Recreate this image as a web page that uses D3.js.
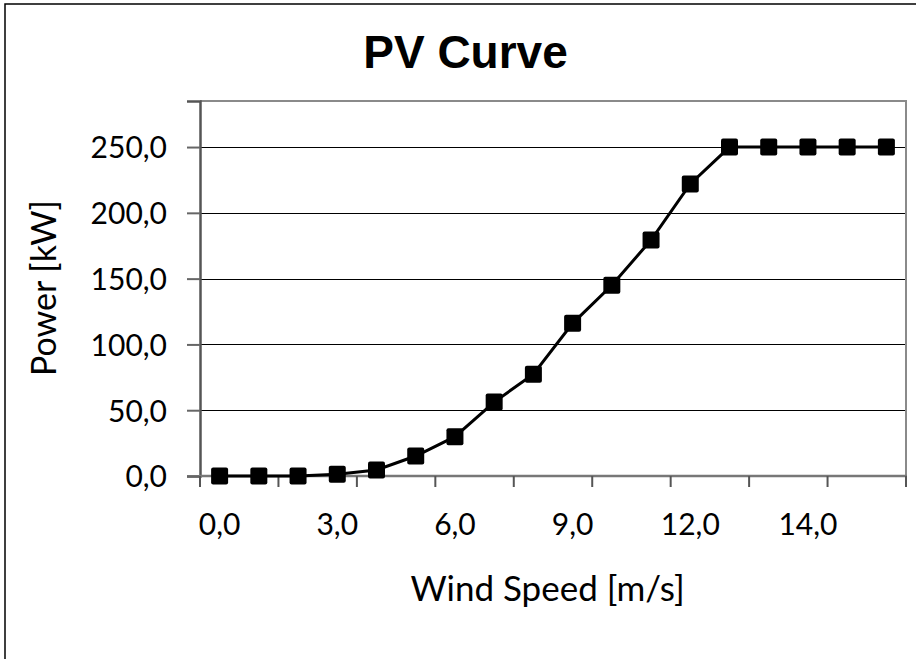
<!DOCTYPE html>
<html>
<head>
<meta charset="utf-8">
<script src="https://cdn.jsdelivr.net/npm/d3@7"></script>
<style>
  html, body { margin: 0; padding: 0; background: #fff; }
  svg { display: block; }
</style>
</head>
<body>
<svg id="chart" width="916" height="659"></svg>
<script>
// ---- data ----
const windSpeed = [0, 1, 2, 3, 4, 5, 6, 7, 8, 9, 10, 11, 12, 13, 13.5, 14, 15, 16];
const power = [0, 0, 0, 1.3, 4.6, 15.2, 29.9, 56.2, 77.4, 116, 145, 179.3, 222, 250, 250, 250, 250, 250];
const yTicks = [0, 50, 100, 150, 200, 250];
const labelInterval = 3;   // every 3rd category labelled
const tickInterval = 2;    // tick mark every 2 categories
const title = "PV Curve";
const xTitle = "Wind Speed [m/s]";
const yTitle = "Power [kW]";

const loc = d3.formatLocale({decimal: ",", thousands: ".", grouping: [3], currency: ["", ""]});
const fmt = loc.format(".1f");

const svg = d3.select("#chart");
const plot = {left: 200, right: 906, top: 101, bottom: 476};

// outer chart frame
svg.append("rect").attr("x", 5).attr("y", 4).attr("width", 940).attr("height", 700)
  .attr("fill", "#fff").attr("stroke", "#000").attr("stroke-width", 1.5);

const idx = d3.range(windSpeed.length);
const x = d3.scaleBand().domain(idx).range([plot.left, plot.right]).padding(0);
const y = d3.scaleLinear().domain([0, 285]).range([plot.bottom, plot.top]);
const cx = i => x(i) + x.bandwidth() / 2;

// gridlines
svg.append("g").selectAll("line").data(yTicks.filter(d => d > 0)).join("line")
  .attr("x1", plot.left).attr("x2", plot.right)
  .attr("y1", d => Math.round(y(d)) + 0.5).attr("y2", d => Math.round(y(d)) + 0.5)
  .attr("stroke", "#000").attr("stroke-width", 1);

// plot area border (top & right gray)
svg.append("path")
  .attr("d", `M${plot.left},${plot.top} H${plot.right} V${plot.bottom}`)
  .attr("fill", "none").attr("stroke", "#8a8a8a").attr("stroke-width", 2);

// y axis
const yAxis = d3.axisLeft(y).tickValues(yTicks).tickFormat(fmt).tickSize(13).tickPadding(20);
const gy = svg.append("g").attr("transform", `translate(${plot.left},0)`).call(yAxis);
gy.select(".domain").attr("stroke", "#555").attr("stroke-width", 2.5);
gy.selectAll(".tick line").attr("stroke", "#666").attr("stroke-width", 2);
gy.selectAll(".tick text").attr("font-family", "Lato, 'Open Sans', sans-serif")
  .attr("font-size", 30).attr("fill", "#000").attr("dy", "0.36em");

// x axis (category axis)
const boundaries = d3.range(0, windSpeed.length + 1, tickInterval);
const gx = svg.append("g");
gx.append("line").attr("x1", plot.left - 1).attr("x2", plot.right + 1)
  .attr("y1", plot.bottom).attr("y2", plot.bottom)
  .attr("stroke", "#777").attr("stroke-width", 2.5);
gx.selectAll("line.tk").data(boundaries).join("line").attr("class", "tk")
  .attr("x1", d => plot.left + d * x.bandwidth()).attr("x2", d => plot.left + d * x.bandwidth())
  .attr("y1", plot.bottom).attr("y2", plot.bottom + 11)
  .attr("stroke", "#555").attr("stroke-width", 2);
gx.selectAll("text").data(idx.filter(i => i % labelInterval === 0)).join("text")
  .attr("x", d => cx(d)).attr("y", 535)
  .attr("text-anchor", "middle")
  .attr("font-family", "Lato, 'Open Sans', sans-serif").attr("font-size", 30)
  .text(d => fmt(windSpeed[d]));

// line
const line = d3.line().x(d => cx(d)).y(d => y(power[d]));
svg.append("path").datum(idx).attr("d", line)
  .attr("fill", "none").attr("stroke", "#000").attr("stroke-width", 3);

// markers
const ms = 17;
svg.append("g").selectAll("rect").data(idx).join("rect")
  .attr("x", d => cx(d) - ms / 2).attr("y", d => y(power[d]) - ms / 2)
  .attr("width", ms).attr("height", ms).attr("rx", 2)
  .attr("fill", "#000");

// titles
svg.append("text").attr("x", 465.5).attr("y", 68).attr("text-anchor", "middle")
  .attr("font-family", "'Liberation Sans', Arial, sans-serif").attr("font-weight", "bold")
  .attr("font-size", 46).text(title);

svg.append("text").attr("x", 547.5).attr("y", 601).attr("text-anchor", "middle")
  .attr("font-family", "Lato, 'Open Sans', sans-serif").attr("font-size", 35).text(xTitle);

svg.append("text").attr("transform", `translate(56,288) rotate(-90)`).attr("text-anchor", "middle")
  .attr("font-family", "Lato, 'Open Sans', sans-serif").attr("font-size", 34).text(yTitle);
</script>
</body>
</html>
